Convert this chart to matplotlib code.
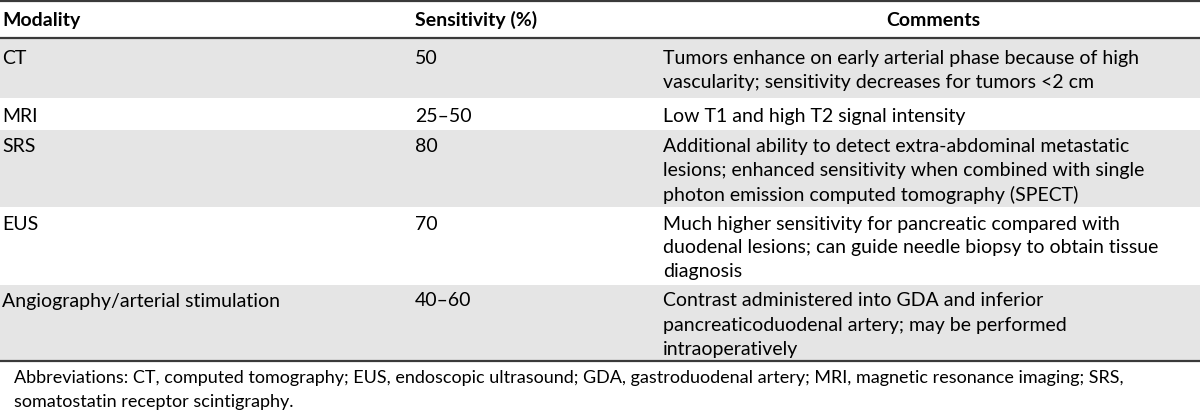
import matplotlib
matplotlib.use("Agg")
import matplotlib.pyplot as plt

# table content
headers = ["Modality", "Sensitivity (%)", "Comments"]
modality = ["CT", "MRI", "SRS", "EUS", "Angiography/arterial stimulation"]
sensitivity = ["50", "25\u201350", "80", "70", "40\u201360"]
comments = [
    ["Tumors enhance on early arterial phase because of high",
     "vascularity; sensitivity decreases for tumors <2 cm"],
    ["Low T1 and high T2 signal intensity"],
    ["Additional ability to detect extra-abdominal metastatic",
     "lesions; enhanced sensitivity when combined with single",
     "photon emission computed tomography (SPECT)"],
    ["Much higher sensitivity for pancreatic compared with",
     "duodenal lesions; can guide needle biopsy to obtain tissue",
     "diagnosis"],
    ["Contrast administered into GDA and inferior",
     "pancreaticoduodenal artery; may be performed",
     "intraoperatively"],
]
footnote = ["Abbreviations: CT, computed tomography; EUS, endoscopic ultrasound; GDA, gastroduodenal artery; MRI, magnetic resonance imaging; SRS,",
            "somatostatin receptor scintigraphy."]

# layout (pixels)
W, H = 1200, 412
col_x = [2, 415, 663]
comments_center = 933
header_top, header_bottom = 1, 38
row_heights = [60, 32, 77, 78, 76]
line_h = 24
fs = 14
fs_note = 13
band = "#e5e5e5"
rule = "#3a3a3a"

plt.rcParams["font.family"] = ["Lato", "DejaVu Sans"]
fig = plt.figure(figsize=(W / 100, H / 100), dpi=100)
ax = fig.add_axes([0, 0, 1, 1])
ax.set_xlim(0, W)
ax.set_ylim(H, 0)
ax.axis("off")

# header
hy = (header_top + header_bottom) / 2 + 0.5
ax.text(col_x[0], hy, headers[0], fontsize=fs, fontweight="bold", va="center", ha="left")
ax.text(col_x[1], hy, headers[1], fontsize=fs, fontweight="bold", va="center", ha="left")
ax.text(comments_center, hy, headers[2], fontsize=fs, fontweight="bold", va="center", ha="center")

y = header_bottom
for i, (m, s, c) in enumerate(zip(modality, sensitivity, comments)):
    h = row_heights[i]
    if i % 2 == 0:
        ax.axhspan(y, y + h, color=band, lw=0, zorder=0)
    first = y + h / 2 + 2 - (len(c) - 1) * line_h / 2
    ax.text(col_x[0], first, m, fontsize=fs, va="center", ha="left")
    ax.text(col_x[1], first, s, fontsize=fs, va="center", ha="left")
    for k, line in enumerate(c):
        ax.text(col_x[2], first + k * line_h, line, fontsize=fs, va="center", ha="left")
    y += h

ax.axhline(header_top, color=rule, lw=1.6)
ax.axhline(header_bottom - 0.5, color=rule, lw=1.6)
ax.axhline(y, color=rule, lw=1.6)

for k, line in enumerate(footnote):
    ax.text(14, y + 17 + k * line_h, line, fontsize=fs_note, va="center", ha="left")

fig.savefig("out.png", dpi=100)
